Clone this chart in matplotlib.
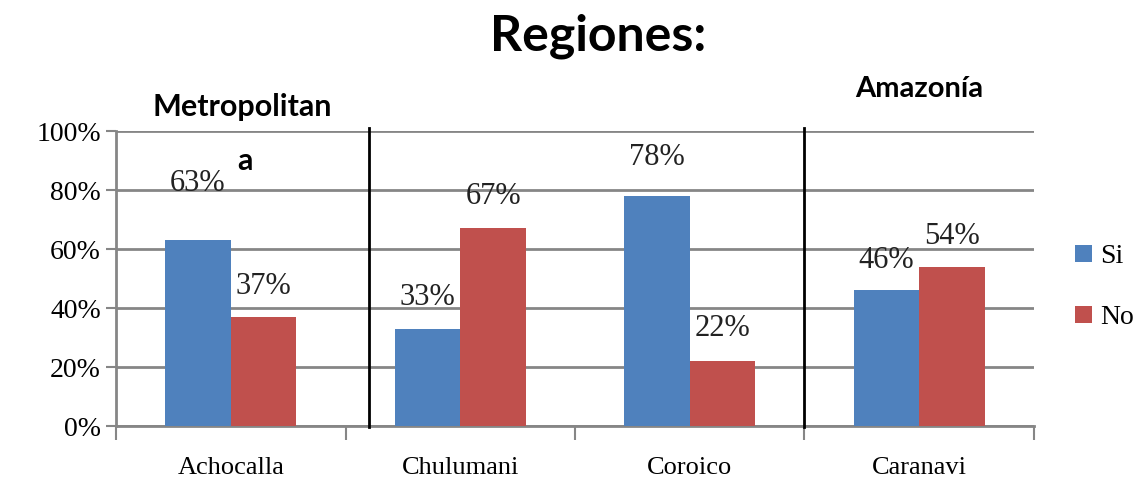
import numpy as np
import matplotlib
matplotlib.use('Agg')
import matplotlib.pyplot as plt

# data
municipios = ['Achocalla', 'Chulumani', 'Coroico', 'Caranavi']
si_vals = [63, 33, 78, 46]
no_vals = [37, 67, 22, 54]
y_ticks = [0, 20, 40, 60, 80, 100]
# extra lift of each value label (pixels above the bar), as in the original
si_lift = [57, 31, 38, 30]
no_lift = [30, 32, 33, 30]

BLUE = '#4F81BD'
RED = '#C0504D'
GRID = '#868686'
SERIF = 'Liberation Serif'
SANS = 'Lato'

fig = plt.figure(figsize=(11.41, 4.8), dpi=100)
ax = fig.add_axes([0.1017, 0.1125, 0.8045, 0.6145])

x = np.arange(len(municipios))
bw = 0.286
b1 = ax.bar(x - bw / 2, si_vals, width=bw, color=BLUE, label='Si', zorder=3)
b2 = ax.bar(x + bw / 2, no_vals, width=bw, color=RED, label='No', zorder=3)

for bars, vals, lifts in [(b1, si_vals, si_lift), (b2, no_vals, no_lift)]:
    for rect, v, lift in zip(bars, vals, lifts):
        ax.annotate(f'{v}%', (rect.get_x() + rect.get_width() / 2, v),
                    xytext=(0, lift * 0.72), textcoords='offset points',
                    ha='center', va='center', fontsize=22, family=SERIF,
                    color='#222222', zorder=4)

ax.set_xlim(-0.5, len(municipios) - 0.5)
ax.set_ylim(0, 100)
ax.set_yticks(y_ticks)
ax.set_yticklabels([f'{t}%' for t in y_ticks], fontsize=20, family=SERIF)
ax.yaxis.grid(True, color=GRID, linewidth=2, zorder=0)

# category labels centred, tick marks on the category boundaries
ax.set_xticks(x)
ax.set_xticklabels(municipios, fontsize=19, family=SERIF)
ax.tick_params(axis='x', length=0, pad=22)
ax.set_xticks(np.arange(-0.5, len(municipios)), minor=True)
ax.tick_params(axis='x', which='minor', length=10, width=1.5, color=GRID)
ax.tick_params(axis='y', length=7, width=1.5, color=GRID, pad=4)

for s in ['top', 'right']:
    ax.spines[s].set_visible(False)
for s in ['left', 'bottom']:
    ax.spines[s].set_color(GRID)
    ax.spines[s].set_linewidth(2)

# region separators
for xs in [0.604, 2.5]:
    ax.plot([xs, xs], [-0.5, 101], color='black', linewidth=2,
            clip_on=False, zorder=5)

ax.text(0.05, 103.5, 'Metropolitan', ha='center', va='bottom',
        fontsize=22, fontweight='bold', family=SANS)
ax.text(0.06, 90, 'a', ha='center', va='center',
        fontsize=22, fontweight='bold', family=SANS)
ax.text(3.0, 110, 'Amazonía', ha='center', va='bottom',
        fontsize=21, fontweight='bold', family=SANS)

fig.text(0.524, 0.925, 'Regiones:', ha='center', va='center',
         fontsize=36, fontweight='bold', family=SANS)

leg = ax.legend(loc='center left', bbox_to_anchor=(1.018, 0.47), frameon=False,
                prop={'family': SERIF, 'size': 20}, handlelength=0.6,
                handleheight=0.6, handletextpad=0.3, labelspacing=1.3)

fig.savefig('out.png', dpi=100, facecolor='white')
